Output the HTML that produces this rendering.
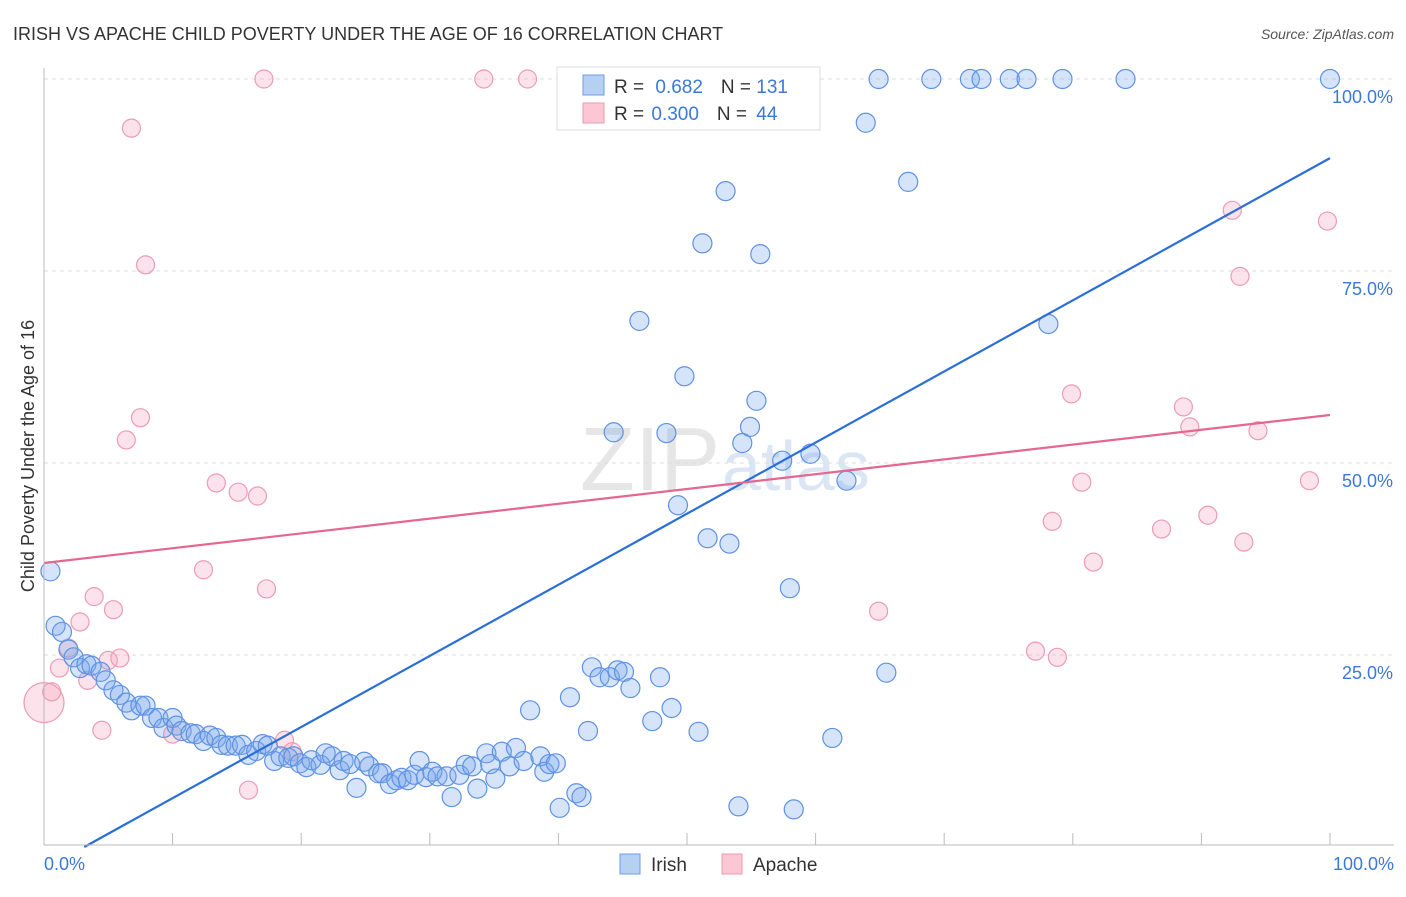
<!DOCTYPE html>
<html><head><meta charset="utf-8"><style>
body{margin:0;background:#fff;font-family:"Liberation Sans",sans-serif}
svg text{font-family:"Liberation Sans",sans-serif}
</style></head><body>
<svg id="c" width="1406" height="892">
<text x="13" y="40" font-size="18" fill="#333">IRISH VS APACHE CHILD POVERTY UNDER THE AGE OF 16 CORRELATION CHART</text>
<text x="1394" y="39" font-size="14" fill="#555" font-style="italic" text-anchor="end">Source: ZipAtlas.com</text>
<text x="720" y="490" font-size="90" fill="#e6e6e6" text-anchor="end" font-family="Liberation Serif">ZIP</text>
<text x="722" y="490" font-size="70" fill="#dbe6f5">atlas</text>
<g id="grid"></g><g id="marks"></g>
<line x1="44" y1="68" x2="44" y2="845" stroke="#bbb"/>
<line x1="44" y1="845" x2="1394" y2="845" stroke="#bbb"/>
<text x="44" y="870" font-size="18" fill="#3b78d8">0.0%</text>
<text x="1394" y="870" font-size="18" fill="#3b78d8" text-anchor="end">100.0%</text>
<text transform="translate(34,456) rotate(-90)" font-size="18" fill="#333" text-anchor="middle">Child Poverty Under the Age of 16</text>
<g>
<rect x="557" y="67" width="263" height="63" fill="#fff" stroke="#ddd"/>
<rect x="583" y="75" width="21" height="20" fill="#b6d0f2" stroke="#6f9ee6"/>
<rect x="583" y="103" width="21" height="20" fill="#fcc6d4" stroke="#ec9ab2"/>
<text x="614" y="93" font-size="19" fill="#333">R = <tspan fill="#3b78d8" dx="6">0.682</tspan><tspan dx="18" fill="#333">N = </tspan><tspan fill="#3b78d8">131</tspan></text>
<text x="614" y="120" font-size="19" fill="#333">R = <tspan fill="#3b78d8" dx="2">0.300</tspan><tspan dx="18" fill="#333">N = </tspan><tspan fill="#3b78d8" dx="4">44</tspan></text>
</g>
<rect x="620" y="854" width="20" height="20" fill="#b6d0f2" stroke="#6f9ee6"/>
<text x="651" y="871" font-size="19" fill="#333">Irish</text>
<rect x="722" y="854" width="20" height="20" fill="#fcc6d4" stroke="#ec9ab2"/>
<text x="753" y="871" font-size="19" fill="#333">Apache</text>
</svg>
<script>
const yTicks=[25,50,75,100];
const yTickLabels=["25.0%","50.0%","75.0%","100.0%"];
const xTicks=[10,20,30,40,50,60,70,80,90,100];
const irishX=[0.5,0.9,1.4,1.9,2.3,2.8,3.3,3.7,4.4,4.8,5.4,5.9,6.4,6.8,7.5,7.9,8.4,8.9,9.3,10.0,10.3,10.7,11.4,11.8,12.4,12.9,13.4,13.8,14.3,14.9,15.4,15.9,16.5,17.0,17.4,17.9,18.4,19.0,19.4,19.9,20.4,20.8,21.5,21.9,22.4,23.0,23.3,23.8,24.3,24.9,25.3,26.0,26.3,26.9,27.4,27.8,28.3,28.8,29.2,29.7,30.2,30.6,31.3,31.7,32.3,32.8,33.3,33.7,34.4,34.7,35.1,35.6,36.2,36.7,37.3,38.6,37.8,38.9,39.3,39.8,40.1,40.9,41.4,41.8,42.3,42.6,43.2,44.0,44.6,45.1,45.6,47.3,47.9,48.8,49.3,44.3,46.3,48.4,49.8,50.9,51.2,51.6,53.0,53.3,54.0,54.3,54.9,55.4,55.7,57.4,58.0,58.3,59.6,61.3,62.4,63.9,64.9,65.5,67.2,69.0,72.0,72.9,75.1,76.4,78.1,79.2,84.1,100,56.8,59.1,47.0];
const irishY=[35.9,28.8,28.0,25.7,24.7,23.3,23.8,23.6,22.8,21.7,20.4,19.8,18.8,17.8,18.4,18.4,16.8,16.8,15.5,16.8,15.8,15.1,14.8,14.7,13.8,14.5,14.2,13.3,13.2,13.2,13.3,12.0,12.5,13.4,13.2,11.2,11.8,11.6,11.8,10.9,10.4,11.3,10.7,12.2,11.8,10.0,11.2,10.8,7.7,11.1,10.5,9.6,9.6,8.2,8.7,9.0,8.7,9.4,11.2,9.1,9.8,9.2,9.2,6.5,9.4,10.7,10.5,7.6,12.2,10.8,8.9,12.4,10.5,12.9,11.2,11.8,17.8,9.8,10.8,10.9,5.1,19.5,7.0,6.5,15.1,23.4,22.1,22.1,23.0,22.8,20.7,16.4,22.1,18.1,44.5,54.0,68.5,53.9,61.3,15.0,78.6,40.2,85.4,39.5,5.3,52.6,54.7,58.1,77.2,50.3,33.7,4.9,51.2,14.2,47.7,94.3,100,22.7,86.6,100,100,100,100,100,68.1,100,100,100,100,100,97.9];
const apacheX=[0,0.6,1.2,1.9,2.8,3.4,3.9,4.5,5.0,5.4,5.9,6.4,6.8,7.5,7.9,10.0,12.4,13.4,15.1,16.6,17.1,17.3,15.9,18.7,34.2,37.6,64.9,77.1,78.4,78.8,79.9,80.7,81.6,86.9,88.6,89.1,90.5,92.4,93.0,93.3,94.4,98.4,99.8,19.3];
const apacheY=[18.8,20.2,23.3,25.9,29.3,21.7,32.6,15.2,24.3,30.9,24.6,53.0,93.6,55.9,75.8,14.7,36.1,47.4,46.2,45.7,100,33.6,7.4,13.9,100,100,30.7,25.5,42.4,24.7,59.0,47.5,37.1,41.4,57.3,54.7,43.2,82.9,74.3,39.7,54.2,47.7,81.5,12.4];
const irishTrend=[-2.9,0.926];
const apacheTrend=[36.98,0.1927];
const NS="http://www.w3.org/2000/svg";
const xs=v=>44+v*12.86, ys=v=>847-v*7.68;
function mk(t,a,p){const e=document.createElementNS(NS,t);for(const k in a)e.setAttribute(k,a[k]);p.appendChild(e);return e;}
const grid=document.getElementById('grid'),marks=document.getElementById('marks');
yTicks.forEach((t,i)=>{
 const l=mk('line',{x1:44,x2:1394,y1:ys(t),y2:ys(t),stroke:'#ddd','stroke-dasharray':'4,4'},grid);
 
 
 const tx=mk('text',{x:1393,y:ys(t)+24,'font-size':18,fill:'#3b78d8','text-anchor':'end'},grid);
 tx.textContent=yTickLabels[i];
 
 
});
xTicks.forEach(t=>{
 const l=mk('line',{x1:xs(t),x2:xs(t),y1:833,y2:845,stroke:'#bbb'},grid);
 
 
});
apacheX.forEach((x,i)=>{
 const c=mk('circle',{cx:xs(x),cy:ys(apacheY[i]),r:i==0?20:9,fill:'rgba(246,160,186,0.3)',stroke:'#eb9cb4','stroke-width':1.2},marks);
 
 
});
irishX.forEach((x,i)=>{
 const c=mk('circle',{cx:xs(x),cy:ys(irishY[i]),r:9.5,fill:'rgba(120,165,235,0.3)',stroke:'#5f92e2','stroke-width':1.2},marks);
 
 
});
const x0=-irishTrend[0]/irishTrend[1];
const tl=mk('line',{x1:xs(x0),y1:ys(0),x2:xs(100),y2:ys(irishTrend[0]+irishTrend[1]*100),stroke:'#2a6fd8','stroke-width':2.2},marks);


const pl=mk('line',{x1:xs(0),y1:ys(apacheTrend[0]),x2:xs(100),y2:ys(apacheTrend[0]+apacheTrend[1]*100),stroke:'#e5678f','stroke-width':2.2},marks);


</script>
</body></html>
